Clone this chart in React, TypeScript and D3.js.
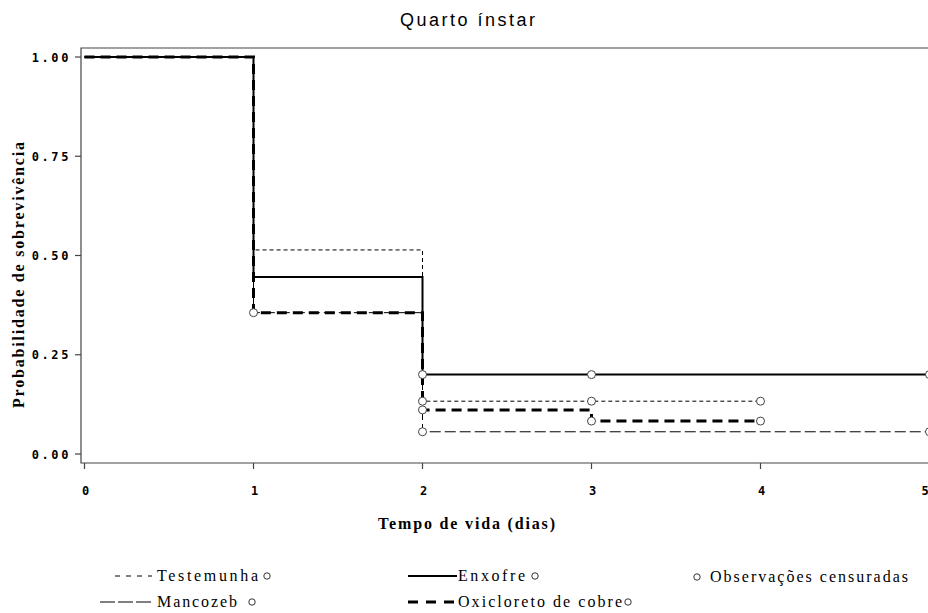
import React, { useEffect, useRef } from 'react';
import * as d3 from 'd3';

// survival estimates at each step time (Kaplan-Meier)
const xTicks = [0, 1, 2, 3, 4, 5];
const yTicks = [0, 0.25, 0.5, 0.75, 1];

const testemunhaTimes = [0, 1, 2];
const testemunhaSurv = [1.0, 0.514, 0.133];
const testemunhaEnd = 4;
const testemunhaCens = [2, 3, 4];

const enxofreTimes = [0, 1, 2];
const enxofreSurv = [1.0, 0.446, 0.2];
const enxofreEnd = 5;
const enxofreCens = [2, 3, 5];

const mancozebTimes = [0, 1, 2];
const mancozebSurv = [1.0, 0.356, 0.056];
const mancozebEnd = 5;
const mancozebCens = [2, 5];

const oxiTimes = [0, 1, 2, 3];
const oxiSurv = [1.0, 0.356, 0.111, 0.083];
const oxiEnd = 4;
const oxiCens = [1, 2, 3, 4];

const App = () => {
    const ref = useRef<HTMLDivElement>(null);

    useEffect(() => {
        if (!ref.current) return;
        d3.select(ref.current).selectAll('*').remove();

        const width = 928;
        const height = 613;

        const svg = d3.select(ref.current)
            .append('svg')
            .attr('width', width)
            .attr('height', height)
            .style('display', 'block');

        const x = d3.scaleLinear().domain([0, 5]).range([84.5, 929.5]);
        const y = d3.scaleLinear().domain([0, 1]).range([454, 57]);

        const frameL = 81, frameT = 48, frameB = 463;
        const frameColor = '#444';

        // title
        svg.append('text')
            .attr('x', 400).attr('y', 26)
            .style('font-family', 'Liberation Sans, Arial, sans-serif')
            .style('font-size', '18px')
            .attr('textLength', 135)
            .attr('lengthAdjust', 'spacing')
            .text('Quarto ínstar');

        // frame
        svg.append('path')
            .attr('d', `M${width},${frameT}H${frameL}V${frameB}H${width}`)
            .attr('fill', 'none')
            .attr('stroke', frameColor)
            .attr('stroke-width', 1.2);

        const tickFont = (s: any) => s
            .style('font-family', 'DejaVu Sans Mono, monospace')
            .style('font-weight', 'bold')
            .style('font-size', '12px')
            .style('letter-spacing', '2.6px');

        // y ticks
        const yg = svg.append('g');
        yg.selectAll('line').data(yTicks).enter().append('line')
            .attr('x1', frameL - 6).attr('x2', frameL)
            .attr('y1', d => y(d)).attr('y2', d => y(d))
            .attr('stroke', frameColor).attr('stroke-width', 1.2);
        yg.selectAll('text').data(yTicks).enter().append('text')
            .attr('x', 71).attr('y', d => y(d) + 4.5)
            .attr('text-anchor', 'end')
            .call(tickFont)
            .text(d => d3.format('.2f')(d));

        // x ticks
        const xg = svg.append('g');
        xg.selectAll('line').data(xTicks).enter().append('line')
            .attr('x1', d => x(d)).attr('x2', d => x(d))
            .attr('y1', frameB).attr('y2', frameB + 6)
            .attr('stroke', frameColor).attr('stroke-width', 1.2);
        xg.selectAll('text').data(xTicks).enter().append('text')
            .attr('x', d => Math.min(x(d) + 1, 925)).attr('y', 495)
            .attr('text-anchor', 'middle')
            .call(tickFont)
            .style('letter-spacing', '0px')
            .text(d => String(d));

        // axis titles
        svg.append('text')
            .attr('x', 378).attr('y', 529)
            .style('font-family', 'Liberation Serif, serif')
            .style('font-weight', 'bold')
            .style('font-size', '16px')
            .attr('textLength', 177)
            .attr('lengthAdjust', 'spacing')
            .text('Tempo de vida (dias)');

        svg.append('text')
            .attr('transform', 'translate(24,408) rotate(-90)')
            .style('font-family', 'Liberation Serif, serif')
            .style('font-weight', 'bold')
            .style('font-size', '16px')
            .attr('textLength', 266)
            .attr('lengthAdjust', 'spacing')
            .text('Probabilidade de sobrevivência');

        const series = [
            { times: testemunhaTimes, surv: testemunhaSurv, end: testemunhaEnd, cens: testemunhaCens, width: 1, dash: '4,3' },
            { times: mancozebTimes, surv: mancozebSurv, end: mancozebEnd, cens: mancozebCens, width: 1, dash: '11,4' },
            { times: enxofreTimes, surv: enxofreSurv, end: enxofreEnd, cens: enxofreCens, width: 2, dash: null },
            { times: oxiTimes, surv: oxiSurv, end: oxiEnd, cens: oxiCens, width: 3, dash: '10,6' },
        ];

        const line = d3.line<[number, number]>()
            .x(d => x(d[0]))
            .y(d => y(d[1]))
            .curve(d3.curveStepAfter);

        const survAt = (s: typeof series[0], t: number) => {
            let v = s.surv[0];
            s.times.forEach((tt, i) => { if (tt <= t) v = s.surv[i]; });
            return v;
        };

        series.forEach(s => {
            const pts: [number, number][] = s.times.map((t, i) => [t, s.surv[i]]);
            pts.push([s.end, s.surv[s.surv.length - 1]]);
            svg.append('path')
                .attr('d', line(pts))
                .attr('fill', 'none')
                .attr('stroke', '#000')
                .attr('stroke-width', s.width)
                .attr('stroke-dasharray', s.dash);
        });

        series.forEach(s => {
            svg.selectAll(null).data(s.cens).enter().append('circle')
                .attr('cx', d => x(d))
                .attr('cy', d => y(survAt(s, d)))
                .attr('r', 4)
                .attr('fill', 'white')
                .attr('stroke', '#444')
                .attr('stroke-width', 1);
        });

        // legend
        const legFont = (sel: any) => sel
            .style('font-family', 'Liberation Serif, serif')
            .style('font-size', '16px');

        const legend = [
            { name: 'Testemunha', lx0: 115, lx1: 152, tx: 157, tl: 101, cx: 267, ly: 581, width: 1, dash: '5,6' },
            { name: 'Enxofre', lx0: 408, lx1: 457, tx: 458, tl: 67, cx: 535, ly: 581, width: 2, dash: null },
            { name: 'Mancozeb', lx0: 100, lx1: 153, tx: 157, tl: 80, cx: 252, ly: 607, width: 1, dash: '15,3' },
            { name: 'Oxicloreto de cobre', lx0: 408, lx1: 458, tx: 458, tl: 164, cx: 628, ly: 607, width: 3, dash: '10,8' },
        ];
        legend.forEach(l => {
            svg.append('line')
                .attr('x1', l.lx0).attr('x2', l.lx1)
                .attr('y1', l.ly - 5).attr('y2', l.ly - 5)
                .attr('stroke', '#000')
                .attr('stroke-width', l.width)
                .attr('stroke-dasharray', l.dash);
            svg.append('text')
                .attr('x', l.tx).attr('y', l.ly)
                .attr('textLength', l.tl)
                .attr('lengthAdjust', 'spacing')
                .call(legFont)
                .text(l.name);
            svg.append('circle')
                .attr('cx', l.cx).attr('cy', l.ly - 5)
                .attr('r', 3.2)
                .attr('fill', 'white')
                .attr('stroke', '#333');
        });
        svg.append('circle')
            .attr('cx', 697).attr('cy', 577)
            .attr('r', 3.2)
            .attr('fill', 'white')
            .attr('stroke', '#333');
        svg.append('text')
            .attr('x', 710).attr('y', 582)
            .attr('textLength', 198)
            .attr('lengthAdjust', 'spacing')
            .call(legFont)
            .text('Observações censuradas');
    }, []);

    return <div ref={ref} style={{ position: 'absolute', left: 0, top: 0 }}></div>;
};

export default App;
